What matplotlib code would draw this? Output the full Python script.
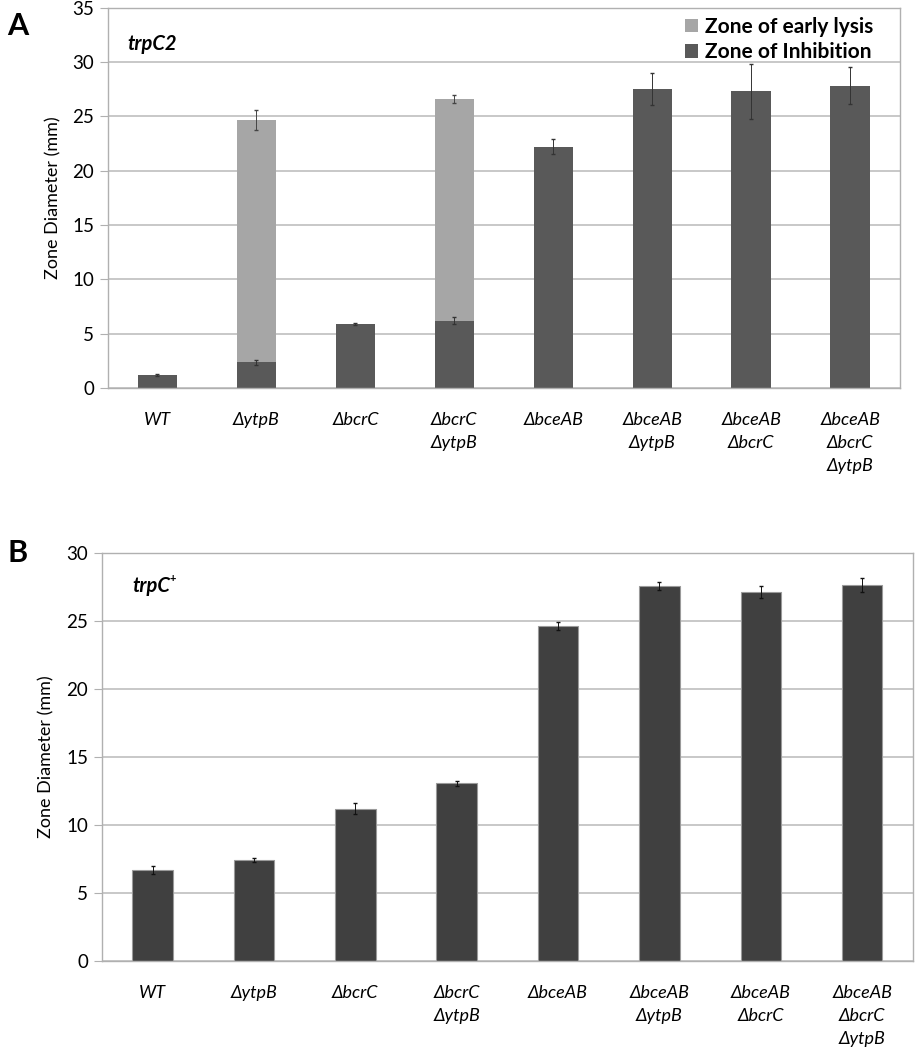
"""
Zone diameter bar charts, panels A (trpC2) and B (trpC+).
"""

#####################################
# Import Modules
#####################################
import numpy as np
import matplotlib
matplotlib.use("Agg")
import matplotlib.pyplot as plt

#####################################
# Data
#####################################

strains = ["WT", "ΔytpB", "ΔbcrC", "ΔbcrC\nΔytpB", "ΔbceAB",
           "ΔbceAB\nΔytpB", "ΔbceAB\nΔbcrC", "ΔbceAB\nΔbcrC\nΔytpB"]

# Panel A - trpC2
inhibition_a = [1.2, 2.35, 5.9, 6.2, 22.2, 27.55, 27.3, 27.85]
inhibition_a_err = [0.1, 0.2, 0.1, 0.3, 0.7, 1.45, 2.5, 1.7]
# total diameter including the zone of early lysis (0 = no lysis bar)
lysis_total_a = [0, 24.7, 0, 26.6, 0, 0, 0, 0]
lysis_total_a_err = [0, 0.9, 0, 0.35, 0, 0, 0, 0]

# Panel B - trpC+
inhibition_b = [6.7, 7.45, 11.2, 13.05, 24.65, 27.55, 27.15, 27.65]
inhibition_b_err = [0.3, 0.15, 0.4, 0.2, 0.3, 0.3, 0.45, 0.5]

#####################################
# Styling
#####################################

plt.rcParams["font.family"] = ["Lato", "DejaVu Sans"]
GRID = "#BFBFBF"
SPINE = "#B0B0B0"
LYSIS = "#A6A6A6"
INHIB_A = "#595959"
INHIB_B = "#404040"

fig = plt.figure(figsize=(9.18, 10.5), dpi=100)
ax_a = fig.add_axes([0.1176, 0.6305, 0.8625, 0.362])
ax_b = fig.add_axes([0.111, 0.0848, 0.8834, 0.3886])

x = np.arange(len(strains))
width = 0.4


def style_axes(ax, ymax):
    ax.set_xlim(-0.5, len(strains) - 0.5)
    ax.set_ylim(0, ymax)
    ax.set_yticks(np.arange(0, ymax + 1, 5))
    ax.yaxis.grid(True, color=GRID, linewidth=1.2)
    ax.set_axisbelow(True)
    for s in ax.spines.values():
        s.set_color(SPINE)
        s.set_linewidth(1.0)
    ax.tick_params(axis="y", length=6, color=SPINE, labelsize=13.5, pad=4)
    ax.tick_params(axis="x", length=0, labelsize=13, pad=17)
    ax.set_xticks(x)
    ax.set_xticklabels(strains, style="italic", linespacing=1.55, va="top")
    ax.set_ylabel("Zone Diameter (mm)", fontsize=13, labelpad=8)


#####################################
# Panel A
#####################################

lysis_x = [i for i, v in enumerate(lysis_total_a) if v > 0]
lysis_h = [lysis_total_a[i] - inhibition_a[i] for i in lysis_x]
lysis_b = [inhibition_a[i] for i in lysis_x]
ax_a.bar(lysis_x, lysis_h, width, bottom=lysis_b, color=LYSIS,
         label="Zone of early lysis", zorder=2)
ax_a.errorbar(lysis_x, [lysis_total_a[i] for i in lysis_x],
              yerr=[lysis_total_a_err[i] for i in lysis_x], fmt="none",
              ecolor="#444444", elinewidth=0.7, capsize=1.5, zorder=3)
ax_a.bar(x, inhibition_a, width, color=INHIB_A, label="Zone of Inhibition",
         zorder=2)
ax_a.errorbar(x, inhibition_a, yerr=inhibition_a_err, fmt="none",
              ecolor="#333333", elinewidth=0.7, capsize=1.5, zorder=3)
style_axes(ax_a, 35)
ax_a.text(0.025, 0.905, "trpC2", transform=ax_a.transAxes, fontsize=14.5,
          fontweight="bold", style="italic", va="center")
ax_a.legend(loc="upper right", bbox_to_anchor=(0.99, 1.025), frameon=False,
            prop={"weight": "bold", "size": 15},
            handlelength=0.6, handleheight=0.6, handletextpad=0.35,
            labelspacing=0.25)
fig.text(0.008, 0.975, "A", fontsize=22, fontweight="bold", va="center")

#####################################
# Panel B
#####################################

ax_b.bar(x, inhibition_b, width, color=INHIB_B, edgecolor="#9A9A9A",
         linewidth=0.8, zorder=2)
ax_b.errorbar(x, inhibition_b, yerr=inhibition_b_err, fmt="none",
              ecolor="#111111", elinewidth=0.7, capsize=1.5, zorder=3)
style_axes(ax_b, 30)
ax_b.text(0.038, 0.92, "trpC", transform=ax_b.transAxes, fontsize=14.5,
          fontweight="bold", style="italic", va="center")
ax_b.text(0.0835, 0.937, "+", transform=ax_b.transAxes, fontsize=8,
          fontweight="bold", va="center")
fig.text(0.008, 0.473, "B", fontsize=22, fontweight="bold", va="center")

fig.savefig("out.png", dpi=100)
